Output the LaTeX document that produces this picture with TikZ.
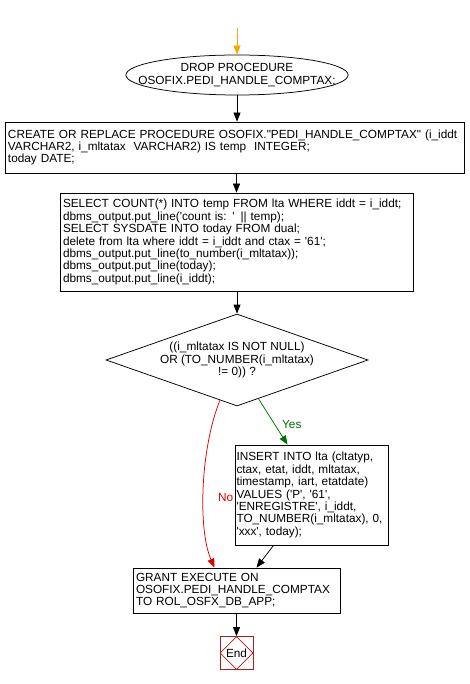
\documentclass[tikz,border=0pt]{standalone}
\usepackage{fontspec}
\newfontfamily\sqlfont{Liberation Sans}
\usetikzlibrary{shapes,arrows.meta,positioning}
\definecolor{startorange}{RGB}{255,165,0}
\definecolor{yesgreen}{RGB}{0,110,0}
\definecolor{nored}{RGB}{225,0,0}
\definecolor{endred}{RGB}{170,30,30}

\begin{document}
\begin{tikzpicture}[x=1pt, y=-1pt, font={\sqlfont\fontsize{11.8}{12.4}\selectfont},
  stmt/.style={draw, rectangle, align=left, inner sep=3pt, line width=0.75pt},
  flow/.style={-{Triangle[length=9pt,width=7pt]}, line width=0.75pt}]
	\useasboundingbox (0,0) rectangle (470,684);
	\coordinate (start) at (237,28);
	\node[draw, ellipse, line width=0.75pt, minimum width=218pt, minimum height=40pt, inner xsep=-20pt, inner ysep=0pt, align=center] (drop) at (237,75) {DROP PROCEDURE\\OSOFIX.PEDI\_HANDLE\_COMPTAX;};
	\node[stmt, text width=453pt, minimum height=51pt] (create) at (234.5,147.5) {CREATE OR REPLACE PROCEDURE OSOFIX."PEDI\_HANDLE\_COMPTAX" (i\_iddt\\VARCHAR2, i\_mltatax \ VARCHAR2) IS temp \ INTEGER;\\today DATE;};
	\node[stmt, text width=347pt, minimum height=98pt] (body) at (236.5,242) {SELECT COUNT(*) INTO temp FROM lta WHERE iddt = i\_iddt;\\dbms\_output.put\_line('count is: ' || temp);\\SELECT SYSDATE INTO today FROM dual;\\delete from lta where iddt = i\_iddt and ctax = '61';\\dbms\_output.put\_line(to\_number(i\_mltatax));\\dbms\_output.put\_line(today);\\dbms\_output.put\_line(i\_iddt);};
	\node[draw, diamond, aspect=2.8, line width=0.75pt, minimum width=262pt, minimum height=92pt, inner sep=0pt, align=center] (test) at (237,360) {((i\_mltatax IS NOT NULL)\\OR (TO\_NUMBER(i\_mltatax)\\!= 0)) ?};
	\node[stmt, inner xsep=1.5pt, text width=150pt, minimum height=100pt] (insert) at (311.5,495) {INSERT INTO lta (cltatyp,\\ctax, etat, iddt, mltatax,\\timestamp, iart, etatdate)\\VALUES ('P', '61',\\'ENREGISTRE', i\_iddt,\\\mbox{TO\_NUMBER(i\_mltatax), 0,}\\'xxx', today);};
	\node[stmt, text width=201pt, minimum height=45pt] (grant) at (236.5,590.5) {GRANT EXECUTE ON\\OSOFIX.PEDI\_HANDLE\_COMPTAX\\TO ROL\_OSFX\_DB\_APP;};
	\node[draw=endred, line width=0.75pt, minimum size=33pt, inner sep=0pt] (endbox) at (236.5,653) {};
	\node[draw=endred, diamond, line width=0.6pt, minimum size=33pt, inner sep=0pt] (end) at (endbox.center) {End};

	\draw[flow, startorange] (start) -- (drop);
	\draw[flow] (drop) -- (create.north -| drop.south);
	\draw[flow] (create.south -| body.north) -- (body);
	\draw[flow] (body.south -| test.north) -- (test);
	\draw[flow, yesgreen] (test.299) -- ([xshift=-24pt]insert.north) node[pos=0.55, right=4pt, text=yesgreen] {Yes};
	\draw[flow, nored] (test.247) .. controls (200,450) and (198,530) .. ([xshift=-22pt]grant.north) node[pos=0.55, right=11pt, text=nored] {No};
	\draw[flow] ([xshift=-38pt]insert.south) -- ([xshift=20pt]grant.north);
	\draw[flow] (grant.south -| endbox.north) -- (endbox);
\end{tikzpicture}
\end{document}
